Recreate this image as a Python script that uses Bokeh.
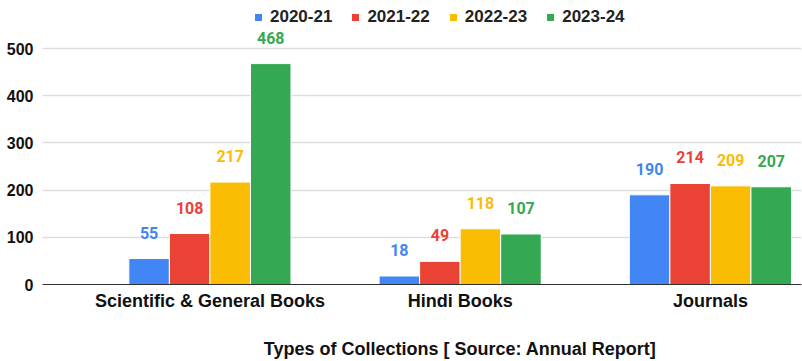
from bokeh.plotting import figure
from bokeh.models import ColumnDataSource, Range1d, FixedTicker, Legend, LegendItem, LinearAxis
from bokeh.transform import dodge
from bokeh.core.properties import value
from bokeh.embed import file_html
from bokeh.resources import INLINE

categories = ["Scientific & General Books", "Hindi Books", "Journals"]
series_names = ["2020-21", "2021-22", "2022-23", "2023-24"]
v2020_21 = [55, 18, 190]
v2021_22 = [108, 49, 214]
v2022_23 = [217, 118, 209]
v2023_24 = [468, 107, 207]
y_ticks = [0, 100, 200, 300, 400, 500]
colors = ["#4285F4", "#EA4335", "#FBBC04", "#34A853"]
x_title = "Types of Collections [ Source: Annual Report]"

series_values = [v2020_21, v2021_22, v2022_23, v2023_24]
data = {"x": list(range(len(categories)))}
for name, vals in zip(series_names, series_values):
    data[name] = vals
    data[name + "_lbl"] = [str(v) for v in vals]
source = ColumnDataSource(data)

p = figure(width=802, height=361, output_backend="svg", toolbar_location=None,
           x_range=Range1d(-0.669, 2.364), y_range=Range1d(0, 601.7),
           min_border_left=42, min_border_right=1, min_border_top=0, min_border_bottom=77)
p.outline_line_color = None

offsets = [-0.243, -0.081, 0.081, 0.243]
items = []
for name, col, off in zip(series_names, colors, offsets):
    r = p.vbar(x=dodge("x", off, range=p.x_range), top=name, width=0.162, source=source,
               fill_color=col, line_color="white", line_width=1)
    p.text(x=dodge("x", off, range=p.x_range), y=name, text=name + "_lbl", source=source,
           text_color=col, text_align="center", text_baseline="alphabetic", y_offset=-26,
           text_font=value("Roboto"), text_font_style="bold", text_font_size="16px")
    items.append(LegendItem(label=name, renderers=[r]))

legend = Legend(items=items, orientation="horizontal", location=(211, 257),
                glyph_width=10, glyph_height=10, label_standoff=7, spacing=18,
                padding=0, margin=0, border_line_color=None, background_fill_alpha=0,
                label_text_font="Liberation Sans", label_text_font_style="bold",
                label_text_font_size="17px", label_text_color="#222222", label_height=20)
p.add_layout(legend, "center")

p.xaxis.ticker = FixedTicker(ticks=data["x"])
p.xaxis.major_label_overrides = {i: c for i, c in enumerate(categories)}
p.xaxis.major_tick_line_color = None
p.xaxis.major_tick_out = 0
p.xaxis.minor_tick_line_color = None
p.xaxis.minor_tick_out = 0
p.xaxis.axis_line_color = "#333333"
p.xaxis.axis_line_width = 1
p.xaxis.major_label_standoff = 6
p.xaxis.major_label_text_font = "Liberation Sans"
p.xaxis.major_label_text_font_style = "bold"
p.xaxis.major_label_text_font_size = "18px"
p.xaxis.major_label_text_color = "#111111"

# axis title centred under the middle category
title_axis = LinearAxis(ticker=FixedTicker(ticks=[1]), major_label_overrides={1: x_title},
                        axis_line_color=None, major_tick_line_color=None, major_tick_out=0,
                        minor_tick_line_color=None, minor_tick_out=0, major_label_standoff=25,
                        major_label_text_font="Liberation Sans", major_label_text_font_style="bold",
                        major_label_text_font_size="18px", major_label_text_color="#111111")
p.add_layout(title_axis, "below")

p.yaxis.ticker = FixedTicker(ticks=y_ticks)
p.yaxis.axis_line_color = None
p.yaxis.major_tick_line_color = None
p.yaxis.major_tick_out = 0
p.yaxis.minor_tick_line_color = None
p.yaxis.minor_tick_out = 0
p.yaxis.major_label_standoff = 9
p.yaxis.major_label_text_font = "Liberation Sans"
p.yaxis.major_label_text_font_style = "bold"
p.yaxis.major_label_text_font_size = "16px"
p.yaxis.major_label_text_color = "#111111"

p.xgrid.grid_line_color = None
p.ygrid.grid_line_color = "#dddddd"
p.ygrid.grid_line_width = 1.5

open("out.html", "w").write(file_html(p, INLINE))
